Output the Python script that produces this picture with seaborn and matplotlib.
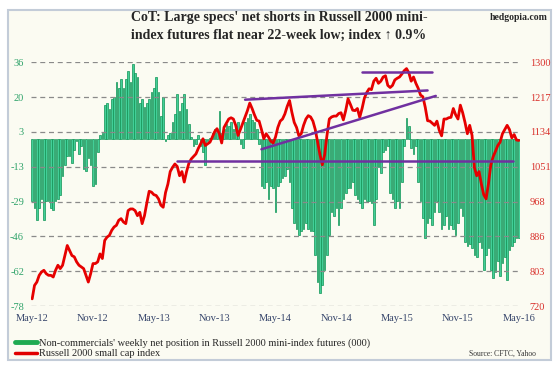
import numpy as np
import pandas as pd
import matplotlib
matplotlib.use("Agg")
import matplotlib.pyplot as plt
import seaborn as sns
from matplotlib.lines import Line2D
from matplotlib.patches import Rectangle

# weekly net position of non-commercials (000), late May 2012 -> mid May 2016
net_position = [
    -29, -32, -38, -32, -28, -38, -29, -29, -32, -33,
    -29, -28, -26, -17, -12, -8, -8, -11, -5, -1,
    -7, -3, -14, -15, -9, -12, -22, -21, -6, 2,
    3, 16, 17, 14, 19, 20, 27, 24, 28, 24,
    28, 32, 27, 35, 31, 29, 17, 19, 15, 17,
    19, 22, 24, 29, 22, 11, 20, -1, 2, 3,
    8, 12, 21, 13, 17, 21, 14, 7, 1, -3,
    -2, 2, -3, -6, -12, -1, 0.5, 3, 5, 4,
    13, 3, 5, 7, 6, 8, 5, 6, 8, -2,
    -4, 8, 10, 12, 9, 8, 5, -2, -22, -23,
    -20, -28, -22, -23, -34, -22, -20, -18, -17, -14,
    -20, -32, -39, -42, -45, -43, -42, -39, -42, -43,
    -43, -54, -67, -72, -68, -61, -54, -45, -34, -36,
    -32, -40, -32, -28, -25, -23, -23, -20, -26, -28,
    -30, -32, -28, -29, -29, -30, -40, -28, -13, -16,
    -6, -5, -3, -25, -28, -32, -29, -32, -20, -3,
    10, 6, -4, -7, -3, -20, -29, -37, -46, -39,
    -37, -40, -34, -29, -34, -42, -40, -36, -42, -40,
    -42, -45, -39, -32, -36, -48, -50, -49, -51, -54,
    -55, -48, -51, -61, -54, -51, -61, -65, -62, -57,
    -64, -58, -55, -66, -52, -50, -48, -46, -46,
]

# Russell 2000 weekly close
russell_2000 = [
    737, 769, 777, 793, 801, 805, 797, 793, 793, 789,
    805, 817, 809, 817, 840, 864, 852, 840, 837, 825,
    817, 813, 809, 793, 777, 797, 821, 821, 825, 844,
    833, 876, 884, 888, 900, 908, 912, 924, 928, 920,
    916, 947, 951, 951, 947, 935, 943, 916, 935, 965,
    993, 991, 985, 983, 975, 960, 955, 990, 1010, 1040,
    1050, 1058, 1052, 1030, 1040, 1015, 1040, 1060, 1070, 1076,
    1082, 1095, 1106, 1118, 1102, 1106, 1110, 1122, 1135, 1142,
    1130, 1108, 1145, 1155, 1165, 1168, 1165, 1150, 1126, 1140,
    1155, 1170, 1185, 1203, 1190, 1175, 1162, 1160, 1140, 1118,
    1130, 1122, 1112, 1108, 1122, 1145, 1160, 1165, 1177, 1195,
    1209, 1181, 1157, 1145, 1125, 1130, 1150, 1165, 1173, 1170,
    1160, 1140, 1110, 1080, 1056, 1080, 1126, 1165, 1170, 1172,
    1172, 1178, 1180, 1163, 1185, 1213, 1200, 1186, 1185, 1190,
    1169, 1190, 1215, 1228, 1237, 1235, 1255, 1262, 1250, 1255,
    1265, 1268, 1245, 1240, 1245, 1258, 1262, 1265, 1272, 1280,
    1285, 1275, 1255, 1265, 1250, 1238, 1222, 1218, 1193, 1161,
    1160, 1155, 1150, 1160, 1138, 1125, 1165, 1165, 1168, 1169,
    1190, 1175, 1165, 1198, 1180, 1157, 1130, 1150, 1126, 1050,
    1030, 1040, 1010, 985, 975, 1010, 1055, 1075, 1088, 1102,
    1110, 1130, 1140, 1150, 1140, 1120, 1128, 1115, 1114,
]

month_labels = ["May-12", "Nov-12", "May-13", "Nov-13", "May-14",
                "Nov-14", "May-15", "Nov-15", "May-16"]
left_labels = ["-78", "-62", "-46", "-29", "-13", "3", "20", "36"]
right_labels = ["720", "803", "886", "968", "1051", "1134", "1217", "1300"]

# trendlines on the index: [start week, start level, end week, end level]
support_line = [62, 1065, 205.5, 1065]
rising_line = [98, 1093, 172.5, 1220]
upper_line = [91, 1211, 169, 1233]
top_line = [141, 1278, 171, 1278]

weeks = np.arange(len(net_position))
df = pd.DataFrame({"week": weeks, "net": net_position, "index": russell_2000})

sns.set_style("white")
plt.rcParams["font.family"] = ["Liberation Serif", "DejaVu Serif"]

W, H = 558, 366
fig = plt.figure(figsize=(W / 100, H / 100), dpi=100)
fig.patches.append(Rectangle((8 / W, 1 - 360 / H), 543 / W, 350 / H,
                             transform=fig.transFigure, facecolor="#fbfbf2",
                             edgecolor="#c3ccd8", lw=1.5, zorder=-10))

ax = fig.add_axes([31 / W, 1 - 306 / H, 489 / W, 243.7 / H])
ax.set_facecolor("none")
sns.barplot(data=df, x="week", y="net", native_scale=True, width=0.7,
            color="#42cf98", saturation=1, edgecolor="#0f9354", linewidth=0.5,
            errorbar=None, ax=ax)
ax.set_xlim(-0.5, len(weeks) - 0.5)
ax.set_ylim(-78, 36)
ax.set_yticks(np.linspace(-78, 36, 8))
ax.set_yticklabels(left_labels)
ax.set_xticks(np.arange(0, len(weeks), 26))
ax.set_xticklabels(month_labels)
ax.grid(axis="y", color="#8a8a8a", ls=(0, (4, 3)), lw=0.9)
ax.grid(axis="x", visible=False)
ax.set_axisbelow(False)
ax.tick_params(axis="y", length=0, pad=5, labelsize=7.5, labelcolor="#2fa36a")
ax.tick_params(axis="x", length=0, pad=6, labelsize=7.5, labelcolor="#35446a")
ax.set_xlabel("")
ax.set_ylabel("")
for s in ax.spines.values():
    s.set_visible(False)

ax2 = ax.twinx()
sns.lineplot(data=df, x="week", y="index", color="#e60000", lw=2, ax=ax2)
for seg in [support_line, rising_line, upper_line, top_line]:
    ax2.plot([seg[0], seg[2]], [seg[1], seg[3]], color="#7030a0", lw=1.8)
ax2.set_ylim(720, 1300)
ax2.set_yticks(np.linspace(720, 1300, 8))
ax2.set_yticklabels(right_labels)
ax2.tick_params(axis="y", length=0, pad=7, labelsize=7.5, labelcolor="#d9302b")
ax2.set_ylabel("")
ax2.grid(False)
for s in ax2.spines.values():
    s.set_visible(False)

fig.text(0.5, 1 - 17 / H, "CoT: Large specs' net shorts in Russell 2000 mini-",
         ha="center", va="center", fontsize=10, fontweight="bold")
fig.text(0.5, 1 - 35 / H, "index futures flat near 22-week low; index \u2191 0.9%",
         ha="center", va="center", fontsize=10, fontweight="bold")
fig.text(548 / W, 1 - 17 / H, "hedgopia.com", ha="right", va="center",
         fontsize=7, fontweight="bold")
fig.text(536 / W, 1 - 354 / H, "Source: CFTC, Yahoo", ha="right", va="center",
         fontsize=5.5, color="#333333")

handles = [Line2D([], [], color="#1faa52", lw=3.5),
           Line2D([], [], color="#e00000", lw=2.5)]
fig.legend(handles=handles,
           labels=["Non-commercials' weekly net position in Russell 2000 mini-index futures (000)",
                   "Russell 2000 small cap index"],
           loc="upper left", bbox_to_anchor=(15 / W, 1 - 338 / H), frameon=False,
           fontsize=7.5, handlelength=2.1, handletextpad=0.2, labelspacing=0.1,
           borderaxespad=0, borderpad=0)

fig.savefig("out.png", dpi=100)
